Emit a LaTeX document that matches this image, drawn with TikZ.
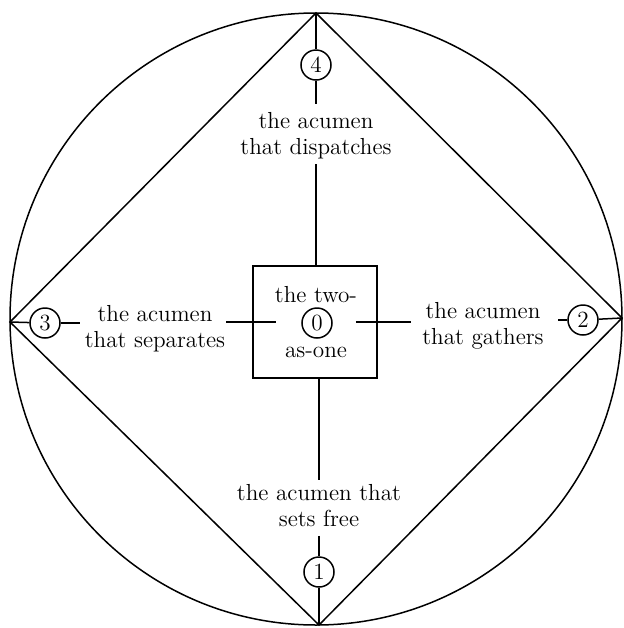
\documentclass[tikz,border=0pt]{standalone}
\usetikzlibrary{positioning, calc}
\begin{document}
\begin{tikzpicture}[x=0.5pt, y=-0.5pt, line width=0.75pt,
    every node/.style={font=\fontsize{11.6}{13}\selectfont},
    numcirc/.style={draw, circle, minimum size=15pt, inner sep=0pt},
    lbl/.style={align=center, inner sep=2pt}]
    \useasboundingbox (0,0) rectangle (623,628);

    % Outer circle and diamond
    \coordinate (ctr) at (316,319);
    \coordinate (T) at (316,13);
    \coordinate (B) at (319,625);
    \coordinate (L) at (10,322);
    \coordinate (R) at (622,318);
    \draw (ctr) circle[radius=153pt];
    \draw (T) -- (R) -- (B) -- (L) -- cycle;

    % Centre box
    \node[draw, minimum width=62pt, minimum height=56pt] (box) at (315,322) {};
    \node (two) at (316,295) {the two-};
    \node[numcirc] (n0) at (317,323) {0};
    \node (asone) at (316,352) {as-one};

    % Numbered points
    \node[numcirc] (n4) at (316,65) {4};
    \node[numcirc] (n1) at (319,572) {1};
    \node[numcirc] (n3) at (45,323) {3};
    \node[numcirc] (n2) at (583,320) {2};

    % Labels
    \node[lbl] (disp) at (316,136) {the acumen\\that dispatches};
    \node[lbl] (free) at (319,506) {the acumen that\\sets free};
    \node[lbl] (sep) at (155,329) {the acumen\\that separates};
    \node[lbl] (gath) at (483,326) {the acumen\\that gathers};

    % Vertical axis
    \draw (T) -- (n4);
    \draw[shorten >=2pt] (n4) -- (disp);
    \draw (disp) -- (disp |- box.north);
    \draw (box.south -| free) -- (free);
    \draw[shorten <=2pt] (free) -- (n1);
    \draw (n1) -- (B);

    % Horizontal axis
    \draw (L) -- (n3);
    \draw (n3) -- (n3 -| sep.west);
    \draw ([xshift=-13pt]box.west) -- ([xshift=12pt]box.west);
    \draw ([xshift=-11pt]box.east) -- ([xshift=16.5pt]box.east);
    \draw (n2) -- ([xshift=5pt]n2 -| gath.east);
    \draw (n2) -- (R);
\end{tikzpicture}
\end{document}
